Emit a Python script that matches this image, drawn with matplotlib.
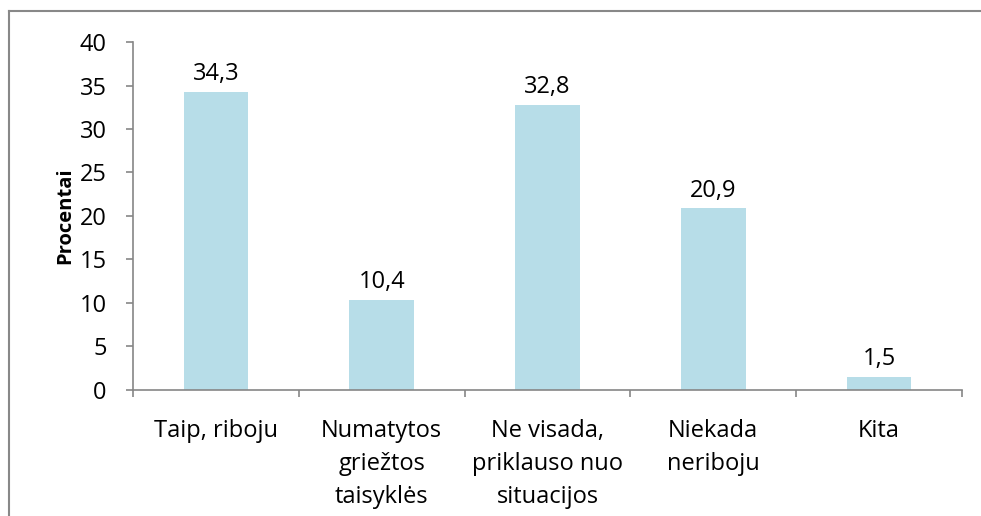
import matplotlib.pyplot as plt
from matplotlib.lines import Line2D

categories = ["Taip, riboju", "Numatytos\ngriežtos\ntaisyklės", "Ne visada,\npriklauso nuo\nsituacijos",
              "Niekada\nneriboju", "Kita"]
values = [34.3, 10.4, 32.8, 20.9, 1.5]
value_labels = ["34,3", "10,4", "32,8", "20,9", "1,5"]

plt.rcParams['font.family'] = ['Open Sans', 'DejaVu Sans']
fs = 17

fig = plt.figure(figsize=(9.81, 5.16), dpi=100)
ax = fig.add_axes([0.1356, 0.2442, 0.845, 0.6744])

x = range(len(categories))
bars = ax.bar(x, values, width=0.39, color='#b7dde8')
for b, lab in zip(bars, value_labels):
    ax.annotate(lab, (b.get_x() + b.get_width() / 2, b.get_height()),
                xytext=(0, 4), textcoords='offset points',
                ha='center', va='bottom', fontsize=fs)

ax.set_xlim(-0.5, len(categories) - 0.5)
ax.set_ylim(0, 40)
ax.set_yticks(range(0, 41, 5))
ax.set_xticks(list(x))
ax.set_xticklabels(categories, fontsize=fs, linespacing=1.5)
ax.set_xticks([i - 0.5 for i in range(len(categories) + 1)], minor=True)
ax.tick_params(axis='x', which='major', length=0, pad=21)
ax.tick_params(axis='x', which='minor', length=5, color='#868686', width=1.2)
ax.tick_params(axis='y', labelsize=fs, length=5, color='#868686', width=1.2, pad=14)

for s in ['top', 'right']:
    ax.spines[s].set_visible(False)
for s in ['left', 'bottom']:
    ax.spines[s].set_color('#868686')
    ax.spines[s].set_linewidth(1.2)

ax.set_ylabel("Procentai", fontsize=14.5, fontweight='bold', labelpad=3)

# outer chart frame (cropped on the right and bottom)
fig.add_artist(Line2D([0.0092, 0.0092], [0.0, 0.9787], color='#888888', lw=1.5, transform=fig.transFigure))
fig.add_artist(Line2D([0.0092, 1.0], [0.9787, 0.9787], color='#888888', lw=1.5, transform=fig.transFigure))

fig.savefig("out.png", dpi=100)
